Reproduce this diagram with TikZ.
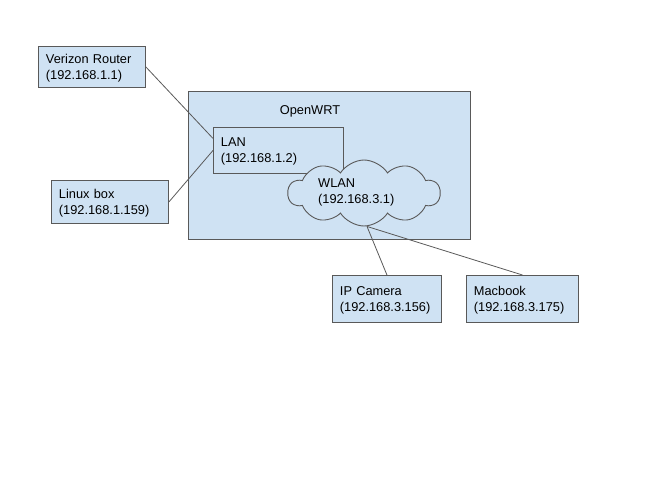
\documentclass[tikz,border=0pt]{standalone}
\usepackage{fontspec}
\setmainfont{Liberation Sans}
\usetikzlibrary{shapes.symbols}
\definecolor{fillc}{HTML}{CFE2F3}
\definecolor{edge}{HTML}{595959}
\begin{document}
\begin{tikzpicture}[x=1pt,y=-1pt,
  txt/.style={font=\fontsize{12.8}{16}\selectfont, text=black},
  box/.style={txt, draw=edge, fill=fillc, line width=0.9pt, align=left,
    inner xsep=7.5pt, inner ysep=0pt, anchor=north west},
  conn/.style={draw=edge, line width=0.8pt}]
\useasboundingbox (0,0) rectangle (666,500);
\node[box, minimum width=282, minimum height=148] (owrt) at (188,91) {};
\node[txt] (owrttitle) at (310,111) {OpenWRT};
\node[box, text width=115, minimum height=46] (lan) at (213,127) {\strut LAN\\(192.168.1.2)};
\node[cloud, cloud puffs=10, cloud puff arc=115, cloud ignores aspect, draw=edge, fill=fillc,
  line width=0.9pt, minimum width=152, minimum height=66, inner sep=0pt] (wlan) at (364,193) {};
\node[txt, align=left, anchor=west, inner sep=0pt] (wlantxt) at (318,192) {WLAN\\(192.168.3.1)};
\node[box, text width=92, minimum height=41] (ver) at (38,46) {\strut Verizon Router\\(192.168.1.1)};
\node[box, text width=102, minimum height=43] (linux) at (51,180) {\strut Linux box\\(192.168.1.159)};
\node[box, text width=94, minimum height=47] (cam) at (332,275) {\strut IP Camera\\(192.168.3.156)};
\node[box, text width=97, minimum height=47] (mac) at (466,275) {\strut Macbook\\(192.168.3.175)};
\draw[conn] (ver.east) -- ([yshift=12pt]lan.west);
\draw[conn] (linux.east) -- (lan.west);
\draw[conn] ([xshift=3pt]wlan.south) -- (cam.north);
\draw[conn] ([xshift=3pt]wlan.south) -- (mac.north);
\end{tikzpicture}
\end{document}
